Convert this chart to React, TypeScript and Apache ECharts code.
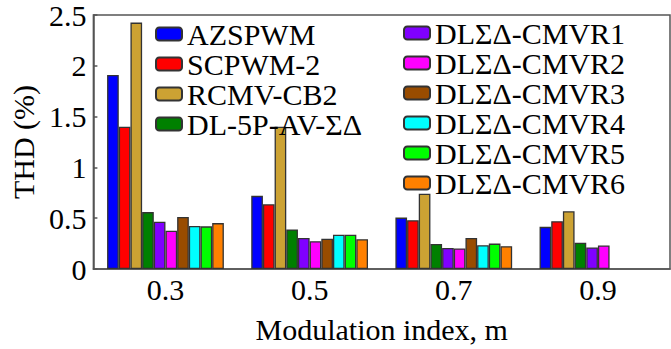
import React, { useEffect, useRef } from "react";
import * as echarts from "echarts";

const categories = ["0.3", "0.5", "0.7", "0.9"];
const seriesNames = [
  "AZSPWM",
  "SCPWM-2",
  "RCMV-CB2",
  "DL-5P-AV-ΣΔ",
  "DLΣΔ-CMVR1",
  "DLΣΔ-CMVR2",
  "DLΣΔ-CMVR3",
  "DLΣΔ-CMVR4",
  "DLΣΔ-CMVR5",
  "DLΣΔ-CMVR6",
];
const azspwm = [1.91, 0.72, 0.506, 0.415];
const scpwm2 = [1.4, 0.637, 0.48, 0.471];
const rcmvcb2 = [2.425, 1.4, 0.74, 0.568];
const dl5p = [0.56, 0.39, 0.246, 0.259];
const cmvr1 = [0.465, 0.306, 0.206, 0.212];
const cmvr2 = [0.377, 0.274, 0.203, 0.231];
const cmvr3 = [0.512, 0.297, 0.306, "-"];
const cmvr4 = [0.424, 0.337, 0.234, "-"];
const cmvr5 = [0.42, 0.337, 0.25, "-"];
const cmvr6 = [0.452, 0.293, 0.225, "-"];
const seriesValues = [azspwm, scpwm2, rcmvcb2, dl5p, cmvr1, cmvr2, cmvr3, cmvr4, cmvr5, cmvr6];
const colors = [
  "#0000ff",
  "#ff0000",
  "#cca233",
  "#008000",
  "#8000ff",
  "#ff00ff",
  "#994c00",
  "#00ffff",
  "#00ff00",
  "#ff8000",
];

export default function App() {
  const ref = useRef<HTMLDivElement>(null);
  useEffect(() => {
    if (!ref.current) return;
    const chart = echarts.init(ref.current, undefined, { renderer: "svg" });
    chart.setOption({
      animation: false,
      grid: { left: 86, top: 14, width: 584, height: 267, show: true, borderColor: "#555", borderWidth: 1.5 },
      legend: [
        {
          orient: "vertical",
          left: 150,
          top: 14,
          itemWidth: 26,
          itemHeight: 13,
          itemGap: 0,
          data: seriesNames.slice(0, 4),
          textStyle: { fontFamily: "Liberation Serif", fontSize: 30, color: "#000" },
        },
        {
          orient: "vertical",
          left: 398,
          top: 13,
          itemWidth: 26,
          itemHeight: 13,
          itemGap: 0,
          data: seriesNames.slice(4),
          textStyle: { fontFamily: "Liberation Serif", fontSize: 30, color: "#000" },
        },
      ],
      xAxis: {
        type: "category",
        data: categories,
        axisLine: { show: true, lineStyle: { color: "#555", width: 1.5 } },
        axisTick: { show: false },
        axisLabel: { fontFamily: "Liberation Serif", fontSize: 30, color: "#000", margin: 5 },
        name: "Modulation index, m",
        nameLocation: "middle",
        nameGap: 45,
        nameTextStyle: { fontFamily: "Liberation Serif", fontSize: 30, color: "#000" },
      },
      yAxis: {
        type: "value",
        min: 0,
        max: 2.5,
        interval: 0.5,
        axisLine: { show: true, lineStyle: { color: "#555", width: 1.5 } },
        splitLine: { show: false },
        axisTick: { show: true, inside: true, length: 4, lineStyle: { color: "#555", width: 1.5 } },
        axisLabel: { fontFamily: "Liberation Serif", fontSize: 30, color: "#000", margin: 7 },
        name: "THD (%)",
        nameLocation: "middle",
        nameGap: 53,
        nameTextStyle: { fontFamily: "Liberation Serif", fontSize: 30, color: "#000" },
      },
      series: seriesNames.map((name, i) => ({
        name,
        type: "bar",
        data: seriesValues[i],
        barGap: "0%",
        barCategoryGap: "19%",
        itemStyle: { color: colors[i], borderColor: "#333", borderWidth: 1.3 },
      })),
    });
    return () => chart.dispose();
  }, []);
  return <div ref={ref} style={{ width: 671, height: 349, position: "absolute", left: 0, top: 0 }} />;
}
